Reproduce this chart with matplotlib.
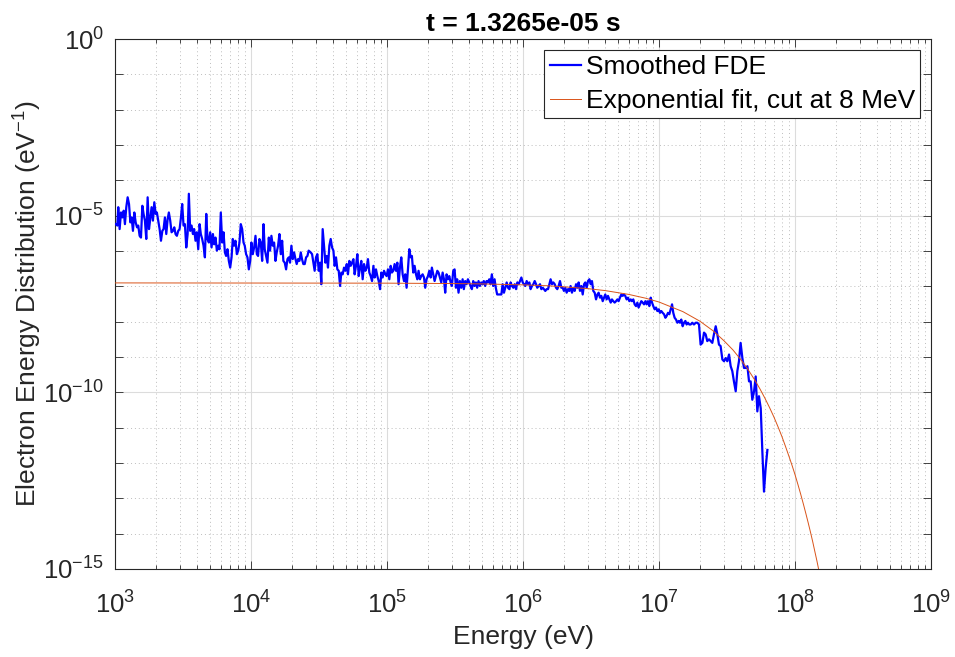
import numpy as np
import matplotlib
matplotlib.use('Agg')
import matplotlib.pyplot as plt
from matplotlib.ticker import FixedLocator, FixedFormatter, NullFormatter

# smoothed FDE as log10(E [eV]) and log10(f [1/eV])
fde_logE = [
    3.005, 3.017, 3.024, 3.034, 3.044, 3.054, 3.064, 3.073, 3.083, 3.093,
    3.103, 3.113, 3.122, 3.132, 3.142, 3.152, 3.162, 3.171, 3.181, 3.191,
    3.201, 3.210, 3.220, 3.230, 3.240, 3.250, 3.259, 3.269, 3.279, 3.289,
    3.299, 3.308, 3.318, 3.328, 3.338, 3.348, 3.357, 3.367, 3.377, 3.387,
    3.396, 3.406, 3.416, 3.426, 3.436, 3.445, 3.455, 3.465, 3.475, 3.485,
    3.494, 3.504, 3.514, 3.524, 3.534, 3.543, 3.553, 3.563, 3.573, 3.582,
    3.592, 3.602, 3.612, 3.622, 3.631, 3.641, 3.651, 3.661, 3.671, 3.680,
    3.690, 3.700, 3.710, 3.720, 3.729, 3.739, 3.749, 3.759, 3.768, 3.778,
    3.788, 3.798, 3.808, 3.817, 3.827, 3.837, 3.847, 3.857, 3.866, 3.876,
    3.886, 3.896, 3.906, 3.915, 3.925, 3.935, 3.945, 3.954, 3.964, 3.974,
    3.984, 3.994, 4.003, 4.013, 4.023, 4.033, 4.043, 4.052, 4.062, 4.072,
    4.082, 4.092, 4.101, 4.111, 4.121, 4.131, 4.140, 4.150, 4.160, 4.170,
    4.180, 4.189, 4.199, 4.209, 4.219, 4.229, 4.238, 4.248, 4.258, 4.268,
    4.278, 4.287, 4.297, 4.307, 4.317, 4.327, 4.336, 4.346, 4.356, 4.366,
    4.375, 4.385, 4.395, 4.405, 4.415, 4.424,
    4.439, 4.449, 4.459, 4.468, 4.478, 4.488, 4.498, 4.508, 4.517, 4.527,
    4.537, 4.547, 4.557, 4.566, 4.576, 4.586, 4.596, 4.606, 4.615, 4.625,
    4.635, 4.645, 4.655, 4.664, 4.674, 4.684, 4.694, 4.704, 4.713, 4.723,
    4.733, 4.743, 4.753, 4.762, 4.772, 4.782, 4.792, 4.802, 4.811, 4.821,
    4.831, 4.841, 4.851, 4.860, 4.870, 4.880, 4.890, 4.900, 4.909, 4.919,
    4.929, 4.939, 4.949, 4.958, 4.968, 4.978, 4.988, 4.997, 5.007, 5.017,
    5.027, 5.036, 5.046, 5.056, 5.066, 5.076, 5.085, 5.095, 5.105, 5.115,
    5.125, 5.134, 5.144, 5.154, 5.164, 5.174, 5.183, 5.193, 5.203, 5.213,
    5.223, 5.232, 5.242, 5.252, 5.262, 5.272, 5.281, 5.291, 5.301, 5.311,
    5.321, 5.330, 5.340, 5.350, 5.360, 5.370, 5.379, 5.389, 5.399, 5.409,
    5.419, 5.428, 5.438, 5.448, 5.458, 5.468, 5.477, 5.487, 5.497, 5.507,
    5.516, 5.526, 5.536, 5.546, 5.556, 5.565, 5.575, 5.585, 5.595, 5.605,
    5.614, 5.624, 5.634, 5.644, 5.654, 5.663, 5.673, 5.683, 5.693, 5.703,
    5.712, 5.722, 5.732, 5.742, 5.752, 5.761, 5.771, 5.781, 5.791, 5.800,
    5.810,
    5.841, 5.850, 5.860, 5.870, 5.880, 5.890, 5.900, 5.909, 5.919, 5.929,
    5.939, 5.949, 5.958, 5.968, 5.978, 5.988, 5.998, 6.007, 6.017, 6.027,
    6.037, 6.047, 6.056, 6.066, 6.076, 6.086, 6.096, 6.105, 6.115, 6.125,
    6.135, 6.145, 6.154, 6.164, 6.174, 6.184, 6.194, 6.203, 6.213, 6.223,
    6.233, 6.243, 6.252, 6.262, 6.272, 6.282, 6.292, 6.301, 6.311, 6.321,
    6.331, 6.341, 6.350, 6.360, 6.370, 6.380, 6.390, 6.400, 6.409, 6.419,
    6.429, 6.439, 6.449, 6.458, 6.468, 6.478, 6.488, 6.498, 6.507, 6.517,
    6.527, 6.537, 6.547, 6.556, 6.566, 6.576, 6.586, 6.596, 6.605, 6.615,
    6.625, 6.635, 6.645, 6.654, 6.664, 6.674, 6.684, 6.694, 6.703, 6.713,
    6.723, 6.733, 6.743, 6.752, 6.762, 6.772, 6.782, 6.792, 6.801, 6.811,
    6.821, 6.831, 6.841, 6.850, 6.860, 6.870, 6.880, 6.890, 6.900, 6.909,
    6.919, 6.929, 6.939, 6.949, 6.958, 6.968, 6.978, 6.988, 6.998, 7.007,
    7.017, 7.027, 7.037, 7.047, 7.056, 7.066, 7.076, 7.086, 7.096, 7.105,
    7.115, 7.125, 7.135, 7.145, 7.154, 7.164, 7.174, 7.184, 7.194, 7.203,
    7.213, 7.223,
    7.233, 7.245, 7.257, 7.270, 7.282, 7.294, 7.306, 7.319, 7.331, 7.343,
    7.355, 7.368, 7.380, 7.392, 7.404, 7.417, 7.429, 7.441, 7.453, 7.466,
    7.478, 7.490, 7.502, 7.515, 7.527, 7.539, 7.551, 7.564, 7.576, 7.588,
    7.600, 7.613, 7.625, 7.637, 7.650, 7.662, 7.674, 7.686, 7.699, 7.711,
    7.723, 7.735, 7.748, 7.760, 7.772, 7.784, 7.797,
]
fde_logF = [
    -5.24, -5.28, -4.76, -5.38, -4.91, -5.05, -4.86, -5.24, -4.76, -4.48,
    -4.67, -5.19, -5.05, -5.43, -4.91, -5.19, -5.33, -5.28, -5.57, -5.62,
    -4.72, -4.95, -5.14, -5.66, -4.48, -5.38, -5.10, -4.76, -5.14, -4.62,
    -4.95, -4.91, -5.14, -5.38, -5.71, -5.43, -5.38, -5.05, -5.52, -5.10,
    -4.91, -5.14, -5.47, -5.43, -5.33, -5.52, -5.57, -5.43, -5.38, -5.05,
    -4.67, -5.28, -5.24, -5.90, -5.52, -4.38, -5.43, -5.28, -5.52, -5.38,
    -5.71, -5.47, -5.95, -5.24, -5.52, -5.66, -5.85, -6.18, -4.95, -5.66,
    -5.76, -5.47, -5.90, -5.52, -5.81, -5.62, -5.99, -5.85, -5.95, -4.91,
    -5.76, -5.47, -6.04, -6.14, -5.95, -6.28, -6.47, -6.18, -5.66, -5.85,
    -5.71, -6.09, -5.99, -5.76, -5.24, -5.38, -5.76, -5.85, -6.09, -6.18,
    -6.52, -6.28, -5.76, -6.09, -5.90, -5.57, -6.09, -6.14, -5.66, -5.76,
    -6.28, -5.24, -5.95, -6.14, -6.33, -5.62, -5.99, -5.57, -5.85, -5.76,
    -6.28, -6.04, -5.85, -5.52, -6.09, -5.71, -6.28, -6.33, -6.52, -6.23,
    -6.18, -6.33, -5.85, -6.23, -6.04, -6.23, -6.37, -6.23, -6.28, -6.04,
    -6.23, -6.37, -6.37, -6.18, -6.14, -5.99,
    -6.04, -6.09, -6.33, -6.56, -6.18, -6.09, -6.56, -6.33, -6.94, -5.38,
    -5.85, -6.33, -6.14, -6.47, -5.85, -5.66, -5.90, -5.99, -6.42, -6.18,
    -6.52, -6.56, -6.99, -6.61, -6.66, -6.47, -6.56, -6.37, -6.66, -6.28,
    -6.42, -6.33, -6.23, -6.66, -6.42, -6.09, -6.71, -6.47, -6.28, -6.80,
    -6.37, -6.56, -6.47, -6.23, -6.61, -6.71, -6.85, -6.42, -6.75, -6.52,
    -6.71, -6.85, -7.08, -6.61, -6.75, -6.56, -6.66, -6.71, -6.52, -6.80,
    -6.42, -6.61, -6.56, -6.37, -6.56, -6.33, -6.94, -6.47, -6.18, -6.66,
    -6.85, -6.66, -7.04, -6.52, -5.95, -6.18, -6.14, -6.61, -6.42, -6.66,
    -6.80, -6.56, -6.80, -6.71, -6.66, -6.75, -7.04, -6.80, -6.71, -6.56,
    -6.75, -6.47, -6.66, -6.85, -6.71, -6.56, -6.61, -6.75, -6.89, -6.61,
    -6.80, -7.18, -6.66, -6.80, -6.71, -6.89, -6.99, -6.56, -6.52, -7.04,
    -6.80, -7.18, -6.85, -7.04, -6.80, -7.08, -6.85, -6.94, -6.80, -6.89,
    -6.99, -7.08, -6.85, -6.99, -6.89, -7.04, -6.85, -6.99, -6.89, -6.94,
    -6.85, -6.99, -6.85, -6.89, -6.80, -6.94, -6.66, -6.99, -6.80, -7.04,
    -7.23,
    -7.23, -6.94, -7.18, -7.04, -6.89, -7.04, -7.08, -6.89, -6.99, -7.04,
    -6.94, -7.08, -6.89, -6.94, -6.85, -6.75, -6.89, -6.94, -6.99, -6.85,
    -6.94, -6.89, -7.08, -6.99, -6.94, -6.85, -6.94, -7.04, -6.99, -6.94,
    -7.08, -7.04, -7.08, -7.13, -7.08, -7.08, -6.94, -6.80, -6.94, -6.89,
    -6.94, -7.04, -7.08, -6.99, -6.85, -7.04, -7.04, -7.13, -7.04, -7.18,
    -7.08, -7.13, -6.99, -7.18, -7.04, -7.13, -6.94, -7.04, -6.89, -7.13,
    -6.99, -7.23, -6.94, -6.89, -7.04, -6.85, -6.80, -6.94, -6.85, -7.13,
    -7.18, -7.37, -7.23, -7.18, -7.32, -7.27, -7.42, -7.32, -7.23, -7.37,
    -7.27, -7.37, -7.46, -7.37, -7.42, -7.46, -7.42, -7.37, -7.42, -7.32,
    -7.23, -7.27, -7.23, -7.27, -7.37, -7.32, -7.42, -7.37, -7.42, -7.37,
    -7.51, -7.56, -7.46, -7.60, -7.51, -7.42, -7.46, -7.51, -7.42, -7.51,
    -7.42, -7.56, -7.32, -7.46, -7.56, -7.65, -7.60, -7.70, -7.65, -7.75,
    -7.70, -7.75, -7.79, -7.89, -7.84, -7.75, -7.79, -7.65, -7.51, -7.75,
    -7.89, -7.94, -8.03, -7.98, -8.03, -7.94, -8.13, -8.03, -7.98, -8.08,
    -8.03, -8.08,
    -8.08, -8.03, -8.08, -8.03, -8.03, -8.08, -8.65, -8.60, -8.31, -8.36,
    -8.55, -8.50, -8.55, -8.60, -8.36, -8.13, -8.36, -8.65, -8.69, -9.07,
    -9.12, -9.03, -9.12, -8.93, -9.26, -9.40, -9.69, -9.97, -9.40, -9.12,
    -8.60, -9.03, -9.31, -9.31, -9.26, -9.69, -9.69, -10.21, -9.97, -9.55,
    -10.54, -10.11, -10.45, -11.68, -12.81, -12.15, -11.63,
]

# exponential fit curve
fit_E = [1e3, 1e5, 3e5, 5e5, 1e6, 1.5e6, 2e6, 3e6, 4e6, 6e6, 8e6, 1e7,
         1.5e7, 2e7, 2.5e7, 3e7, 3.5e7, 4e7, 4.5e7, 5e7, 5.5e7, 6e7, 6.5e7,
         7e7, 7.5e7, 8e7, 8.5e7, 9e7, 9.5e7, 1e8, 1.05e8, 1.1e8, 1.15e8,
         1.2e8, 1.25e8, 1.3e8, 1.35e8, 1.4e8, 1.45e8, 1.5e8]
fit_F = [1.25e-7, 1.23e-7, 1.20e-7, 1.17e-7, 1.10e-7, 1.04e-7, 9.7e-8,
         8.6e-8, 7.6e-8, 5.9e-8, 4.6e-8, 3.6e-8, 1.92e-8, 1.03e-8, 5.5e-9,
         2.9e-9, 1.58e-9, 8.4e-10, 4.5e-10, 2.4e-10, 1.29e-10, 6.9e-11,
         3.7e-11, 2.0e-11, 1.06e-11, 5.7e-12, 3.0e-12, 1.6e-12, 8.7e-13,
         4.7e-13, 2.49e-13, 1.33e-13, 7.1e-14, 3.8e-14, 2.04e-14, 1.1e-14,
         5.9e-15, 3.1e-15, 1.68e-15, 8.9e-16]

x_ticks = [1e3, 1e4, 1e5, 1e6, 1e7, 1e8, 1e9]
x_labels = ['$10^{3}$', '$10^{4}$', '$10^{5}$', '$10^{6}$', '$10^{7}$', '$10^{8}$', '$10^{9}$']
y_ticks = [1e-15, 1e-10, 1e-5, 1e0]
y_labels = ['$10^{-15}$', '$10^{-10}$', '$10^{-5}$', '$10^{0}$']

plt.rcParams['font.family'] = ['Liberation Sans', 'DejaVu Sans']
plt.rcParams['mathtext.fontset'] = 'custom'
plt.rcParams['mathtext.rm'] = 'Liberation Sans'
plt.rcParams['mathtext.it'] = 'Liberation Sans:italic'
plt.rcParams['mathtext.bf'] = 'Liberation Sans:bold'
plt.rcParams['mathtext.default'] = 'regular'

axis_col = '#262626'
fs = 19
fig = plt.figure(figsize=(9.55, 6.57), dpi=100)
ax = fig.add_axes([115 / 955, 1 - 569 / 657, 816 / 955, 530 / 657])

ax.loglog(10 ** np.array(fde_logE), 10 ** np.array(fde_logF), color='#0000ff', lw=1.6,
          label='Smoothed FDE', zorder=3)
ax.loglog(fit_E, fit_F, color='#D95319', lw=0.7, label='Exponential fit, cut at 8 MeV', zorder=3)

ax.set_xlim(1e3, 1e9)
ax.set_ylim(1e-15, 1e0)

ax.xaxis.set_major_locator(FixedLocator(x_ticks))
ax.xaxis.set_major_formatter(FixedFormatter(x_labels))
ax.xaxis.set_minor_locator(FixedLocator([m * 10.0 ** d for d in range(3, 9) for m in range(2, 10)]))
ax.xaxis.set_minor_formatter(NullFormatter())
ax.yaxis.set_major_locator(FixedLocator(y_ticks))
ax.yaxis.set_major_formatter(FixedFormatter(y_labels))
ax.yaxis.set_minor_locator(FixedLocator([10.0 ** d for d in range(-15, 1) if d % 5 != 0]))
ax.yaxis.set_minor_formatter(NullFormatter())

ax.tick_params(which='both', direction='in', top=True, right=True, colors=axis_col,
               labelsize=18.5, width=0.6)
ax.tick_params(axis='x', which='major', length=6, pad=16)
ax.tick_params(axis='x', which='minor', length=3)
ax.tick_params(axis='y', which='major', length=6, pad=8)
ax.tick_params(axis='y', which='minor', length=6)
for s in ax.spines.values():
    s.set_color(axis_col)
    s.set_linewidth(0.8)

ax.grid(True, which='major', color='#dcdcdc', lw=0.8, ls='-')
ax.grid(True, which='minor', color='#bdbdbd', lw=0.7, ls=(0, (1, 3)))
ax.set_axisbelow(True)

ax.set_xlabel('Energy (eV)', fontsize=fs, color=axis_col, labelpad=4.5)
ax.set_ylabel('Electron Energy Distribution (eV$^{-1}$)', fontsize=fs, color=axis_col, labelpad=-0.5)
ax.set_title('t = 1.3265e-05 s', fontsize=fs, fontweight='bold', pad=6)

leg = ax.legend(loc='upper right', fontsize=fs, fancybox=False, framealpha=1,
                edgecolor=axis_col, borderaxespad=0.4, handlelength=1.17,
                handletextpad=0.2, borderpad=0.2, labelspacing=0.38)
leg.get_frame().set_linewidth(0.8)

fig.savefig('out.png', dpi=100)
